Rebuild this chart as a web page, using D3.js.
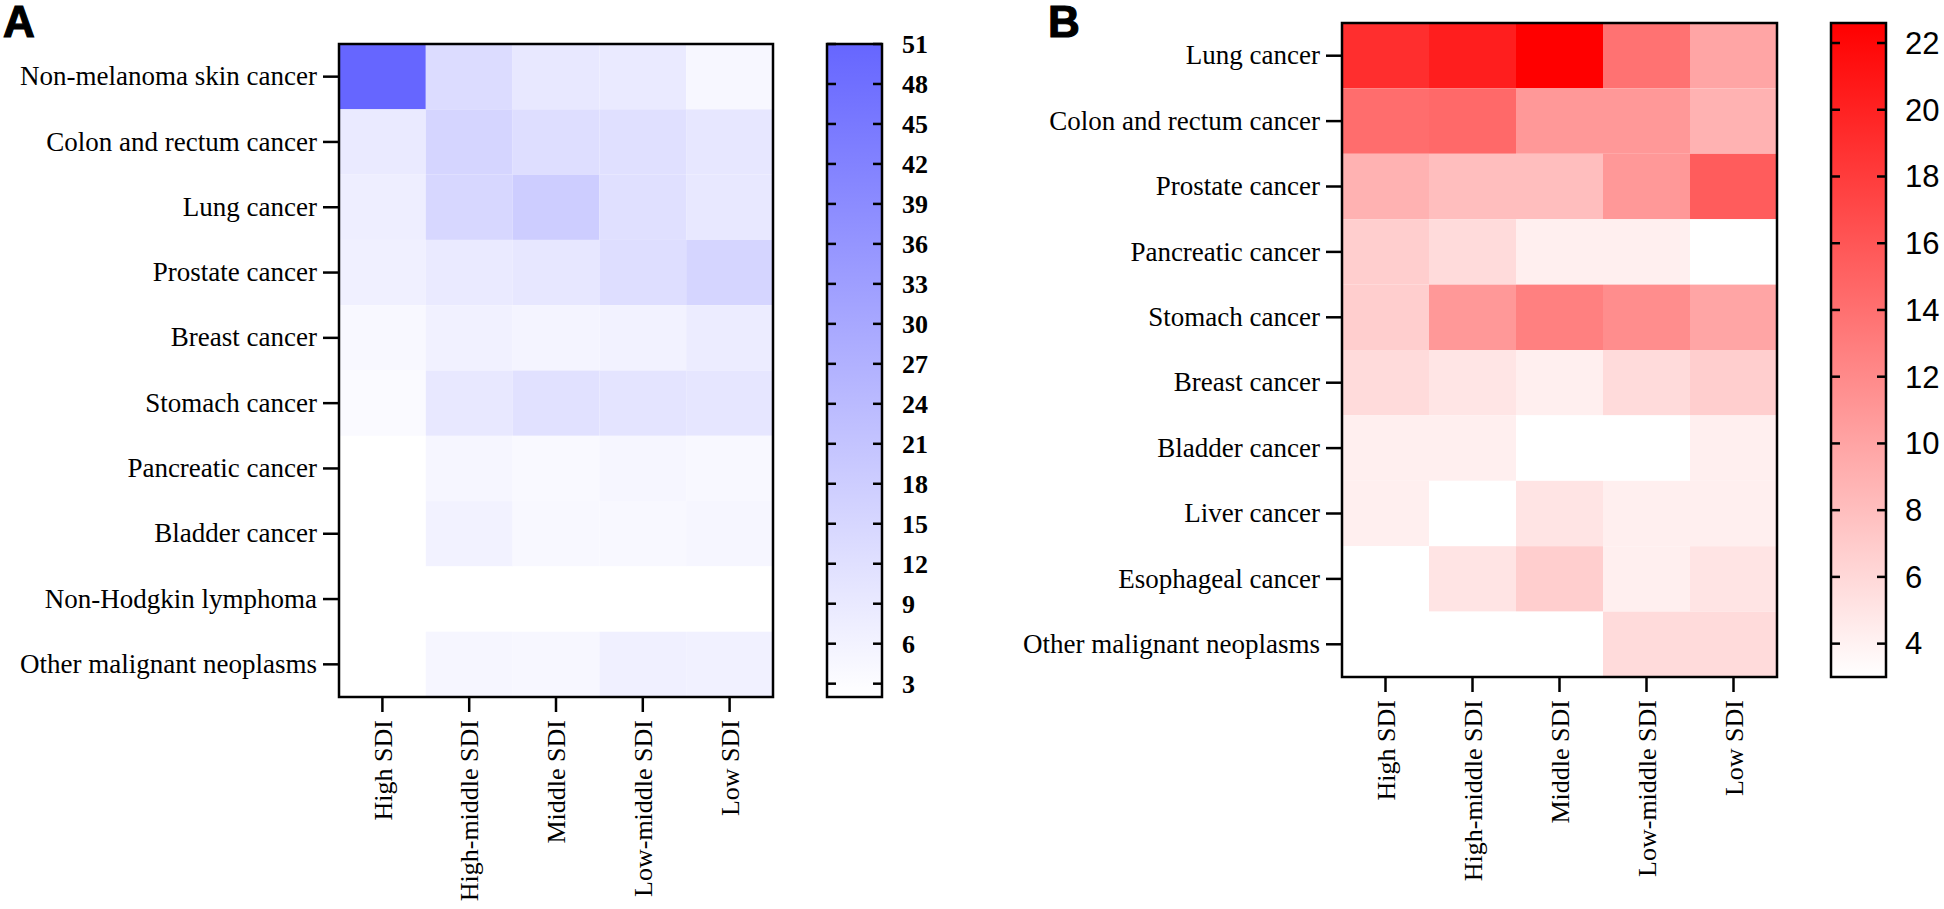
<!DOCTYPE html>
<html>
<head>
<meta charset="utf-8">
<script src="https://cdn.jsdelivr.net/npm/d3@7"></script>
<style>
  body { margin: 0; background: #fff; }
  .axis path { display: none; }
  .axis line { stroke: #000; stroke-width: 2.5; }
  .axis text { fill: #000; font-family: "Liberation Serif", "Times New Roman", serif; }
</style>
</head>
<body>
<svg id="chart" width="1944" height="909"></svg>
<script>
const sdiLevels = ["High SDI", "High-middle SDI", "Middle SDI", "Low-middle SDI", "Low SDI"];

const causesA = [
  "Non-melanoma skin cancer", "Colon and rectum cancer", "Lung cancer", "Prostate cancer",
  "Breast cancer", "Stomach cancer", "Pancreatic cancer", "Bladder cancer",
  "Non-Hodgkin lymphoma", "Other malignant neoplasms"
];
// one row per cause, columns follow sdiLevels
const valuesA = [
  [51, 13.2, 9.4, 8.7, 4.5],
  [8.7, 15.5, 12.6, 12, 9.7],
  [7.4, 14.8, 18, 12, 9.4],
  [6.8, 8.7, 9.7, 12.6, 15.5],
  [4.3, 6.5, 5.5, 6.2, 8],
  [3.6, 9.4, 11.6, 10.6, 10],
  [2, 4.9, 3.9, 4.9, 4.3],
  [2, 6.2, 4.3, 4.3, 4.9],
  [2, 2, 2, 2, 2],
  [2, 4.9, 4.6, 6.8, 6.5]
];
const legendTicksA = [3, 6, 9, 12, 15, 18, 21, 24, 27, 30, 33, 36, 39, 42, 45, 48, 51];

const causesB = [
  "Lung cancer", "Colon and rectum cancer", "Prostate cancer", "Pancreatic cancer",
  "Stomach cancer", "Breast cancer", "Bladder cancer", "Liver cancer",
  "Esophageal cancer", "Other malignant neoplasms"
];
const valuesB = [
  [19.1, 20.3, 22.6, 13.8, 9.9],
  [14.2, 14.5, 10.9, 10.9, 8.9],
  [8.9, 8, 8, 10.9, 15.5],
  [6.8, 5.8, 4.2, 4.2, 3],
  [6.8, 10.9, 12.8, 11.8, 9.9],
  [5.8, 5, 4.2, 5.8, 6.8],
  [4.2, 4.2, 3, 3, 4.2],
  [4.2, 3, 5.1, 4.2, 4.2],
  [3, 5.1, 6.8, 4.2, 5.1],
  [3, 3, 3, 5.8, 5.8]
];
const legendTicksB = [4, 6, 8, 10, 12, 14, 16, 18, 20, 22];

const svg = d3.select("#chart");

function drawPanel(opts) {
  const g = svg.append("g");

  var x = d3.scaleBand().domain(sdiLevels).range([opts.left, opts.right]);
  var y = d3.scaleBand().domain(opts.causes).range([opts.top, opts.bottom]);

  var color = d3.scaleLinear()
    .domain(opts.domain)
    .range(["#ffffff", opts.color])
    .clamp(true);

  var cells = [];
  opts.values.forEach(function(row, i) {
    row.forEach(function(v, j) {
      cells.push({ cause: opts.causes[i], sdi: sdiLevels[j], value: v });
    });
  });

  g.selectAll(".cell")
    .data(cells)
    .enter()
    .append("rect")
    .attr("class", "cell")
    .attr("x", function(d) { return x(d.sdi); })
    .attr("y", function(d) { return y(d.cause); })
    .attr("width", x.bandwidth())
    .attr("height", y.bandwidth())
    .attr("fill", function(d) { return color(d.value); });

  g.append("rect")
    .attr("x", opts.left)
    .attr("y", opts.top)
    .attr("width", opts.right - opts.left)
    .attr("height", opts.bottom - opts.top)
    .attr("fill", "none")
    .attr("stroke", "#000")
    .attr("stroke-width", 2.5);

  g.append("g")
    .attr("class", "axis")
    .attr("transform", "translate(" + opts.left + ",0)")
    .call(d3.axisLeft(y).tickSize(16).tickPadding(6))
    .selectAll("text")
    .style("font-size", "27px");

  g.append("g")
    .attr("class", "axis")
    .attr("transform", "translate(0," + opts.bottom + ")")
    .call(d3.axisBottom(x).tickSize(15).tickPadding(8))
    .selectAll("text")
    .style("font-size", "26px")
    .attr("text-anchor", "end")
    .attr("transform", "rotate(-90)")
    .attr("x", -23)
    .attr("y", 0)
    .attr("dy", "0.35em");

  // colour bar
  var ly = d3.scaleLinear().domain(opts.domain).range([opts.bottom, opts.top]);
  var gradId = "grad-" + opts.name;
  var grad = svg.append("defs").append("linearGradient")
    .attr("id", gradId)
    .attr("x1", 0).attr("y1", 1).attr("x2", 0).attr("y2", 0);
  grad.append("stop").attr("offset", "0%").attr("stop-color", "#ffffff");
  grad.append("stop").attr("offset", "100%").attr("stop-color", opts.color);

  var lg = g.append("g");
  lg.append("rect")
    .attr("x", opts.legendX)
    .attr("y", opts.top)
    .attr("width", opts.legendW)
    .attr("height", opts.bottom - opts.top)
    .attr("fill", "url(#" + gradId + ")")
    .attr("stroke", "#000")
    .attr("stroke-width", 2.5);

  lg.selectAll(".tl")
    .data(opts.ticks)
    .enter()
    .append("line")
    .attr("x1", opts.legendX)
    .attr("x2", opts.legendX + 9)
    .attr("y1", function(d) { return ly(d); })
    .attr("y2", function(d) { return ly(d); })
    .attr("stroke", "#000")
    .attr("stroke-width", 2.5);

  lg.selectAll(".tr")
    .data(opts.ticks)
    .enter()
    .append("line")
    .attr("x1", opts.legendX + opts.legendW - 9)
    .attr("x2", opts.legendX + opts.legendW)
    .attr("y1", function(d) { return ly(d); })
    .attr("y2", function(d) { return ly(d); })
    .attr("stroke", "#000")
    .attr("stroke-width", 2.5);

  lg.selectAll(".lbl")
    .data(opts.ticks)
    .enter()
    .append("text")
    .attr("x", opts.labelX)
    .attr("y", function(d) { return ly(d); })
    .attr("dy", "0.35em")
    .style("font-family", opts.labelFont)
    .style("font-weight", opts.labelWeight)
    .style("font-size", opts.labelSize)
    .text(function(d) { return d; });

  svg.append("text")
    .attr("x", opts.letterX)
    .attr("y", 37)
    .style("font-family", "'Liberation Sans', Arial, sans-serif")
    .style("font-weight", "bold")
    .style("font-size", "44px")
    .attr("stroke", "#000")
    .attr("stroke-width", 1.2)
    .text(opts.letter);
}

drawPanel({
  name: "a", letter: "A", letterX: 3,
  causes: causesA, values: valuesA,
  left: 339, right: 773, top: 44, bottom: 697,
  domain: [2, 51], color: "#6666ff",
  legendX: 827, legendW: 55, ticks: legendTicksA,
  labelX: 902, labelFont: "'Liberation Serif', 'Times New Roman', serif",
  labelWeight: "bold", labelSize: "26px"
});

drawPanel({
  name: "b", letter: "B", letterX: 1048,
  causes: causesB, values: valuesB,
  left: 1342, right: 1777, top: 23, bottom: 677,
  domain: [3, 22.6], color: "#ff0000",
  legendX: 1831, legendW: 55, ticks: legendTicksB,
  labelX: 1905, labelFont: "'Liberation Sans', Arial, sans-serif",
  labelWeight: "normal", labelSize: "31px"
});
</script>
</body>
</html>
